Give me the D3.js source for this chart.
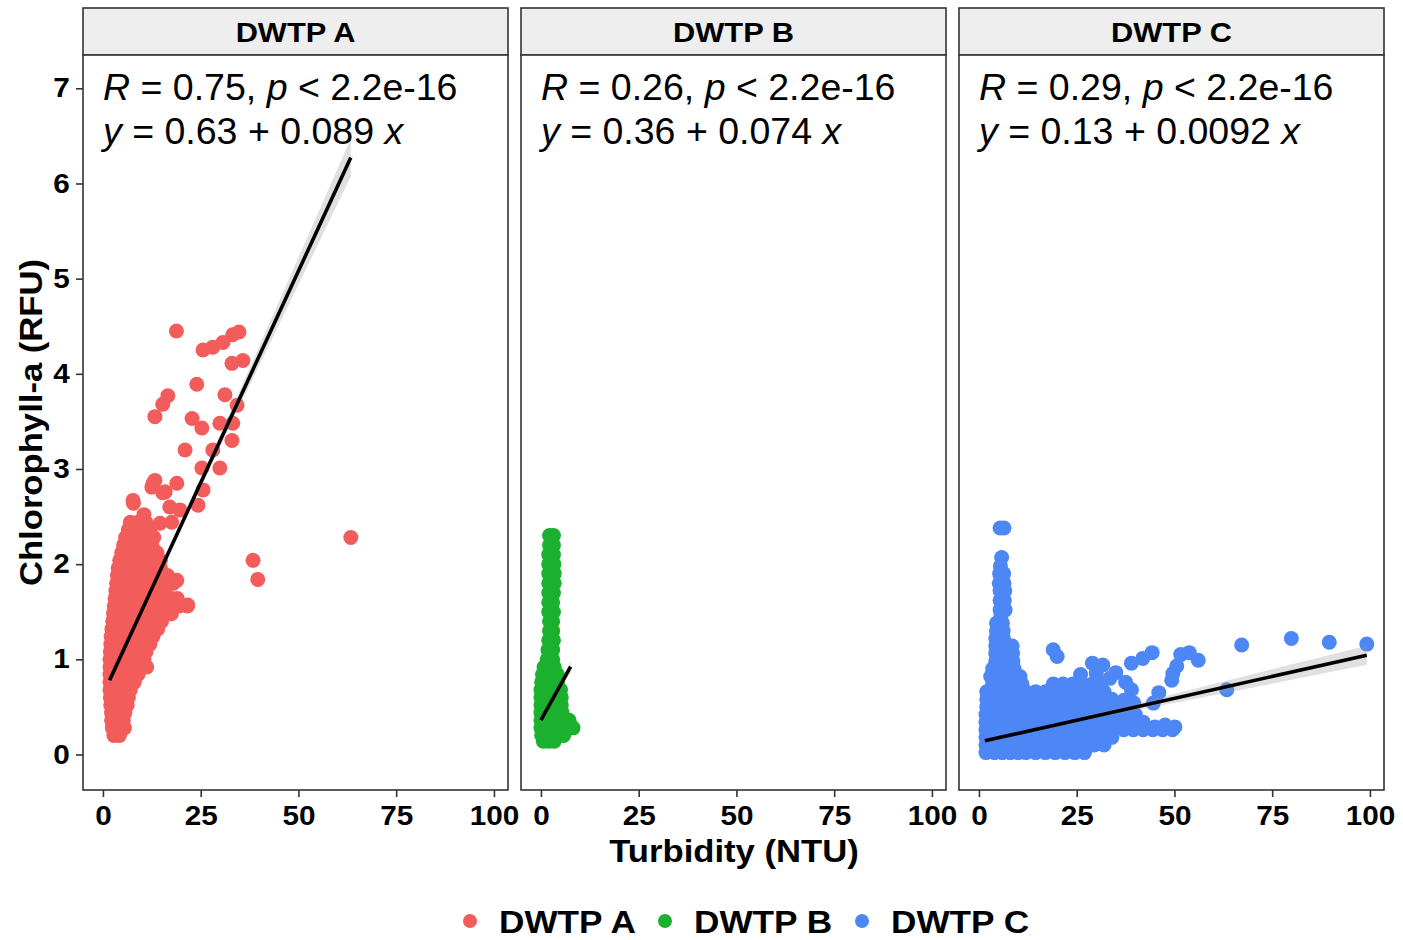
<!DOCTYPE html>
<html><head><meta charset="utf-8">
<script src="https://cdn.jsdelivr.net/npm/d3@7"></script>
<style>body{margin:0;background:#fff}svg text{white-space:pre}</style>
</head><body>
<svg id="chart" width="1403" height="940"></svg>
<script>
// ---------------- data ----------------
const categories = ["DWTP A", "DWTP B", "DWTP C"];
const colors = ["#F25C5A", "#1CB02F", "#4D87F6"];
const xTicks = [0, 25, 50, 75, 100];
const yTicks = [0, 1, 2, 3, 4, 5, 6, 7];
const corrR = ["0.75", "0.26", "0.29"];
const pText = "2.2e-16";
const interceptText = ["0.63", "0.36", "0.13"];
const slopeText = ["0.089", "0.074", "0.0092"];
const intercepts = [0.63, 0.36, 0.13];
const slopes = [0.089, 0.074, 0.0092];
const fitRange = [[1.7, 63.4], [0, 7.6], [1.5, 99.2]];
// confidence band half-widths at nodes [x, halfwidth]
const bandA = [[1.7, 0.04], [15, 0.025], [35, 0.08], [63.4, 0.2]];
const bandB = [[0, 0.03], [3, 0.02], [7.6, 0.06]];
const bandC = [[1.5, 0.02], [20, 0.015], [60, 0.06], [99.2, 0.1]];

// points: rows [y, [x values]] and extra [x, y]
const rowsA = [
 [0.20,[2.8,4.2]],
 [0.28,[2.4,4.2,5.5]],
 [0.36,[2.2,4.0,5.2]],
 [0.44,[2.2,4.0,5.6]],
 [0.52,[2.0,3.8,5.6,6.2]],
 [0.60,[1.9,3.7,5.5,6.5]],
 [0.68,[1.8,3.6,5.4,7.0]],
 [0.76,[1.8,3.6,5.4,7.2,8.0]],
 [0.84,[1.8,3.6,5.4,7.2,9.0]],
 [0.92,[1.8,3.6,5.4,7.2,9.0,11.2]],
 [1.00,[1.8,3.6,5.4,7.2,9.0,10.5]],
 [1.08,[1.9,3.7,5.5,7.3,9.1,11.0]],
 [1.16,[2.0,3.8,5.6,7.4,9.2,11.0,12.0]],
 [1.24,[2.1,3.9,5.7,7.5,9.3,11.1,12.8]],
 [1.32,[2.3,4.1,5.9,7.7,9.5,11.3,13.1,14.0]],
 [1.40,[2.5,4.3,6.1,7.9,9.7,11.5,13.3,15.0]],
 [1.48,[2.7,4.5,6.3,8.1,9.9,11.7,13.5,15.5,17.5]],
 [1.56,[2.9,4.7,6.5,8.3,10.1,11.9,13.7,15.5,17.5,19.5,21.6]],
 [1.64,[3.1,4.9,6.7,8.5,10.3,12.1,13.9,15.7,17.5,19.0]],
 [1.72,[3.3,5.1,6.9,8.7,10.5,12.3,14.1,15.9]],
 [1.80,[3.5,5.3,7.1,8.9,10.7,12.5,14.3,16.1,18.0]],
 [1.88,[3.7,5.5,7.3,9.1,10.9,12.7,14.5,16.5]],
 [1.96,[3.9,5.7,7.5,9.3,11.1,12.9,14.7]],
 [2.04,[4.3,6.1,7.9,9.7,11.5,13.3,14.7]],
 [2.12,[4.8,6.6,8.4,10.2,12.0,13.8]],
 [2.20,[5.3,7.1,8.9,10.7,12.5]],
 [2.28,[5.8,7.6,9.4,11.2,13.0]],
 [2.36,[6.5,8.3,10.1,12.0]],
 [2.44,[7.0,9.0,11.0]]
];
const extraA = [[7.8,2.64],[12.8,2.85],[18.9,2.85],[15.3,2.75],[17.1,2.60],[19.7,2.57],[24.3,2.62],[25.6,2.78],
 [14.6,2.43],[17.6,2.44],[13.3,2.88],[12.5,2.81],[15.9,2.76],[7.7,2.67],[10.5,2.52],[21.0,3.20],
 [18.8,4.45],[25.6,4.25],[28.1,4.28],[30.7,4.33],[33.2,4.41],[34.8,4.44],[33.0,4.11],[35.8,4.14],
 [24.0,3.89],[31.2,3.78],[34.3,3.67],[16.6,3.77],[15.3,3.68],[13.3,3.55],[22.8,3.53],[25.3,3.43],
 [29.9,3.48],[33.2,3.48],[33.0,3.30],[28.1,3.20],[25.3,3.01],[29.9,3.01],[18.9,1.83],[21.7,1.57],
 [38.4,2.04],[39.6,1.84],[63.4,2.28]];

const rowsB = [
 [2.30,[2.2,3.2]],[2.20,[2.2,3.2]],[2.10,[2.0,3.2]],[2.00,[2.0,3.3]],[1.90,[2.0,3.4]],
 [1.80,[2.0,3.4]],[1.70,[2.0,3.2]],[1.60,[2.0,3.0]],[1.50,[2.0,3.2]],[1.40,[2.2,3.0]],
 [1.30,[2.2,3.0]],[1.20,[2.0,3.2]],[1.10,[1.8,3.0]],[1.00,[1.6,3.0]],
 [0.92,[0.8,2.2,3.4]],
 [0.84,[0.4,1.8,3.2,4.2]],
 [0.76,[0.2,1.6,3.0,4.2]],
 [0.68,[0.0,1.4,2.8,4.2,5.0]],
 [0.60,[0.0,1.4,2.8,4.2,5.2]],
 [0.52,[0.0,1.4,2.8,4.2,5.2]],
 [0.44,[0.0,1.4,2.8,4.2,5.4]],
 [0.36,[0.0,1.4,2.8,4.2,5.6,7.2]],
 [0.28,[0.0,1.4,2.8,4.2,5.6,7.4,8.2]],
 [0.20,[0.2,1.6,3.0,4.4,5.8]],
 [0.14,[0.6,2.0,3.4]]
];
const extraB = [];

const rowsC = [
 [2.38,[5.4,6.4]],[2.07,[5.8]],[1.98,[5.5]],[1.90,[5.3,6.3]],[1.80,[5.2,6.4]],
 [1.72,[5.4,6.6]],[1.62,[5.4,6.5]],[1.52,[5.4,6.7]],[1.45,[5.6]],[1.38,[4.5,6.0]],
 [1.30,[4.5,6.2]],[1.22,[4.3,6.3]],[1.14,[4.3,6.5,8.5]],[1.06,[4.3,6.5,8.6]],
 [0.98,[4.3,6.5,8.7]],[0.90,[3.5,5.5,7.5,9.0]],[0.82,[3.0,5.0,7.0,9.0,10.5]],
 [0.74,[3.5,5.5,7.5,9.5,11.0,19.0,21.5,24.0,26.5,29.0,31.0]],
 [0.66,[2.0,4.0,6.0,8.0,10.0,12.0,14.5,17.0,19.5,22.0,24.5,27.0,29.5,32.0]],
 [0.58,[2.0,4.0,6.0,8.0,10.0,12.0,14.5,17.0,19.5,22.0,24.5,27.0,29.5,32.0,34.0]],
 [0.50,[2.0,4.0,6.0,8.0,10.0,12.0,14.5,17.0,19.5,22.0,24.5,27.0,29.5,32.0,34.5,37.0]],
 [0.42,[1.8,4.0,6.0,8.0,10.0,12.0,14.5,17.0,19.5,22.0,24.5,27.0,29.5,32.0,34.5,37.0,40.0]],
 [0.34,[1.8,4.0,6.0,8.0,10.0,12.0,14.5,17.0,19.5,22.0,24.5,27.0,29.5,32.0,34.5,37.0,39.5,42.0]],
 [0.26,[1.8,4.0,6.0,8.0,10.0,12.0,14.5,17.0,19.5,22.0,24.5,27.0,29.5,32.0,34.5,37.0,39.5,42.0,44.5,47.0,49.5]],
 [0.18,[1.8,4.0,6.0,8.0,10.0,12.0,14.5,17.0,19.5,22.0,24.5,27.0,29.5,32.0,34.0]],
 [0.10,[1.8,4.0,6.0,8.0,10.0,12.0,14.5,17.0,19.5,22.0,24.5,27.0,29.5,32.0]],
 [0.02,[1.8,4.0,6.0,8.0,10.0,12.0,14.5,17.0,19.5,22.0,24.5,27.0]]
];
const extraC = [[19,1.10],[20,1.03],[29,0.96],[31.7,0.94],[35,0.86],[37.5,0.76],[39,0.68],[37.1,0.57],
 [39.6,0.54],[39,0.96],[41.9,1.01],[44.3,1.07],[46,0.65],[44.6,0.54],[49.6,0.85],[49.3,0.78],
 [50.6,0.93],[51.6,1.05],[53.8,1.07],[56.1,0.99],[63.4,0.68],[67.2,1.15],[79.9,1.22],[89.6,1.18],
 [99.2,1.16],[45,0.29],[47.6,0.31],[50.1,0.29],[33.5,0.80],[30,0.85],[26,0.84]];

// ---------------- layout ----------------
const svg = d3.select("#chart");
const FONT = "'Liberation Sans', Arial, Helvetica, sans-serif";
const SX = 1.1; // horizontal widening of bold text
const panelLefts = [83, 521, 959];
const panelW = 425;
const stripTop = 8, panelTop = 55, panelBottom = 790;
const y = d3.scaleLinear().domain([-0.373, 7.35]).range([panelBottom, panelTop]);

function flatten(rows, extra) {
  const pts = [];
  rows.forEach(([yy, xs]) => xs.forEach(xx => pts.push([xx, yy])));
  extra.forEach(p => pts.push(p));
  return pts;
}
const pointSets = [flatten(rowsA, extraA), flatten(rowsB, extraB), flatten(rowsC, extraC)];
const bands = [bandA, bandB, bandC];

function boldText(g, x, yy, txt, size, anchor) {
  return g.append("text")
    .attr("transform", `translate(${x},${yy}) scale(${SX},1)`)
    .attr("text-anchor", anchor)
    .attr("font-family", FONT).attr("font-weight", "bold")
    .attr("font-size", size).attr("fill", "#000").text(txt);
}

categories.forEach((cat, i) => {
  const L = panelLefts[i];
  const x = d3.scaleLinear().domain([-5.1, 103.6]).range([L, L + panelW]);
  const g = svg.append("g");

  // strip
  g.append("rect").attr("x", L).attr("y", stripTop).attr("width", panelW).attr("height", panelTop - stripTop)
    .attr("fill", "#EEEEEE").attr("stroke", "#333").attr("stroke-width", 1.6);
  boldText(g, L + panelW / 2, 42, cat, 28, "middle");

  // panel background
  g.append("rect").attr("x", L).attr("y", panelTop).attr("width", panelW).attr("height", panelBottom - panelTop)
    .attr("fill", "#fff");

  // points
  g.append("g").selectAll("circle").data(pointSets[i]).join("circle")
    .attr("cx", d => x(d[0])).attr("cy", d => y(d[1])).attr("r", 7.5)
    .attr("fill", colors[i]);

  // confidence band
  const bnodes = bands[i];
  const area = d3.area()
    .x(d => x(d[0]))
    .y0(d => y(intercepts[i] + slopes[i] * d[0] - d[1]))
    .y1(d => y(intercepts[i] + slopes[i] * d[0] + d[1]));
  g.append("path").datum(bnodes).attr("d", area).attr("fill", "#999").attr("opacity", 0.3);

  // regression line
  const fr = fitRange[i];
  g.append("line")
    .attr("x1", x(fr[0])).attr("y1", y(intercepts[i] + slopes[i] * fr[0]))
    .attr("x2", x(fr[1])).attr("y2", y(intercepts[i] + slopes[i] * fr[1]))
    .attr("stroke", "#000").attr("stroke-width", 3.6);

  // panel border
  g.append("rect").attr("x", L).attr("y", panelTop).attr("width", panelW).attr("height", panelBottom - panelTop)
    .attr("fill", "none").attr("stroke", "#333").attr("stroke-width", 1.6);

  // annotation
  const ann = g.append("g").attr("font-family", FONT).attr("font-size", 37.5).attr("fill", "#000");
  const t1 = ann.append("text").attr("x", L + 20).attr("y", 100);
  t1.append("tspan").attr("font-style", "italic").text("R");
  t1.append("tspan").text(` = ${corrR[i]}, `);
  t1.append("tspan").attr("font-style", "italic").text("p");
  t1.append("tspan").text(` < ${pText}`);
  const t2 = ann.append("text").attr("x", L + 20).attr("y", 144);
  t2.append("tspan").attr("font-style", "italic").text("y");
  t2.append("tspan").text(` = ${interceptText[i]} + ${slopeText[i]} `);
  t2.append("tspan").attr("font-style", "italic").text("x");

  // x axis
  const xa = g.append("g").attr("transform", `translate(0,${panelBottom})`)
    .call(d3.axisBottom(x).tickValues(xTicks).tickSize(7).tickPadding(9));
  xa.select(".domain").remove();
  xa.selectAll("line").attr("stroke", "#333").attr("stroke-width", 1.6);
  xa.selectAll("text").attr("font-family", FONT).attr("font-weight", "bold").attr("font-size", 27)
    .attr("fill", "#000").attr("transform", `scale(${SX},1)`);

  if (i === 0) {
    const ya = g.append("g").attr("transform", `translate(${L},0)`)
      .call(d3.axisLeft(y).tickValues(yTicks).tickSize(7).tickPadding(5));
    ya.select(".domain").remove();
    ya.selectAll("line").attr("stroke", "#333").attr("stroke-width", 1.6);
    ya.selectAll("text").attr("font-family", FONT).attr("font-weight", "bold").attr("font-size", 27)
      .attr("fill", "#000").attr("transform", `scale(${SX},1)`);
  }
});

// axis titles
boldText(svg, 734, 862, "Turbidity (NTU)", 31.5, "middle");
svg.append("text")
  .attr("transform", `translate(42,${(panelTop + panelBottom) / 2}) rotate(-90) scale(${SX},1)`)
  .attr("text-anchor", "middle").attr("font-family", FONT).attr("font-weight", "bold")
  .attr("font-size", 31.5).attr("fill", "#000").text("Chlorophyll-a (RFU)");

// legend
const legendX = [470, 665, 862];
const lg = svg.append("g");
categories.forEach((cat, i) => {
  lg.append("circle").attr("cx", legendX[i]).attr("cy", 921).attr("r", 7).attr("fill", colors[i]);
  boldText(lg, legendX[i] + 29, 933, cat, 32, "start");
});
</script>
</body></html>
